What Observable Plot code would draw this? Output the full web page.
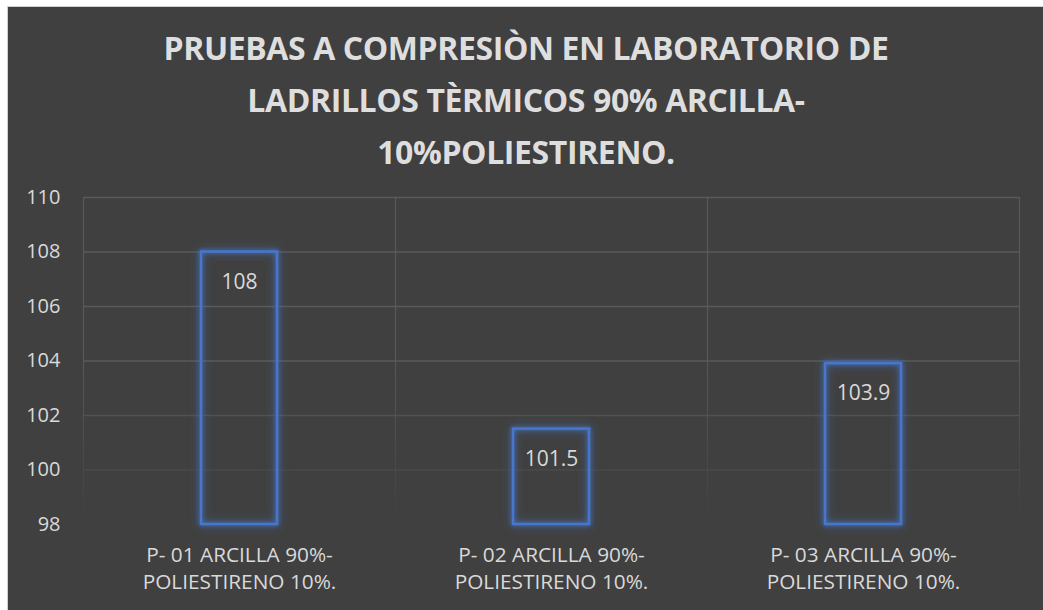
<!DOCTYPE html>
<html>
<head>
<meta charset="utf-8">
<script src="https://cdn.jsdelivr.net/npm/d3@7"></script>
<script src="https://cdn.jsdelivr.net/npm/@observablehq/plot@0.6"></script>
<style>
  html, body { margin: 0; padding: 0; background: #ffffff; }
  #card {
    position: absolute; left: 7px; top: 6px; width: 1036px; height: 604px;
    background: #404040; border-left: 1px solid #cfcfcf; border-top: 1px solid #cfcfcf;
    overflow: hidden;
  }
  #title {
    height: 170px; box-sizing: border-box; padding-top: 15px;
    text-align: center; color: #dedede; font-family: "Open Sans", sans-serif;
    font-weight: 700; font-size: 32px; line-height: 52px; letter-spacing: -0.4px;
  }
  #chart svg { display: block; }
</style>
</head>
<body>
<div id="card">
  <div id="title">PRUEBAS A COMPRESIÒN EN LABORATORIO DE<br>LADRILLOS TÈRMICOS 90% ARCILLA-<br>10%POLIESTIRENO.</div>
  <div id="chart"></div>
</div>
<script>
const categories = [
  "P- 01 ARCILLA 90%-\nPOLIESTIRENO 10%.",
  "P- 02 ARCILLA 90%-\nPOLIESTIRENO 10%.",
  "P- 03 ARCILLA 90%-\nPOLIESTIRENO 10%."
];
const values = [108, 101.5, 103.9];
const yTicks = [98, 100, 102, 104, 106, 108, 110];
const baseline = 98;

const W = 1035, H = 433, mT = 20, mL = 75, mR = 24, mB = 86;
const step = (W - mL - mR) / categories.length;
const gridColor = "#5a5a5a";
const textColor = "#d9d9d9";
const barColor = "#4677cc";

const rows = categories.map((c, i) => ({c, v: values[i]}));
const fade = t => Math.max(0, Math.min(1, (t - yTicks[0]) / 6));

const chart = Plot.plot({
  width: W, height: H,
  marginTop: mT, marginLeft: mL, marginRight: mR, marginBottom: mB,
  style: {background: "transparent", color: textColor, fontFamily: "'Open Sans', sans-serif", fontSize: "20px"},
  x: {domain: categories, paddingInner: 0.756, paddingOuter: 0.378, label: null},
  y: {domain: [yTicks[0], yTicks[yTicks.length - 1]], label: null},
  marks: [
    ...yTicks.filter(t => fade(t) > 0).map(t => Plot.ruleY([t], {stroke: gridColor, strokeOpacity: fade(t), strokeWidth: 1.3})),
    Plot.ruleX(categories, {stroke: "url(#vfade)", strokeWidth: 1.1, dx: -step / 2}),
    Plot.ruleX(categories.slice(-1), {stroke: "url(#vfade)", strokeWidth: 1.1, dx: step / 2}),
    Plot.barY(rows, {x: "c", y1: baseline, y2: "v", fill: "none", stroke: barColor, strokeWidth: 2.5}),
    Plot.text(rows, {x: "c", y: "v", text: d => String(d.v), dy: 30, fill: textColor, fontSize: 21}),
    Plot.axisX({tickSize: 0, tickPadding: 18, lineHeight: 1.3, fontSize: 20.8, fill: textColor}),
    Plot.axisY({ticks: yTicks, tickSize: 0, tickPadding: 23, fontSize: 20, fill: textColor})
  ]
});

// gradient definition for vertical gridlines (fades toward the bottom)
const y = chart.scale("y");
const ns = "http://www.w3.org/2000/svg";
const defs = document.createElementNS(ns, "defs");
const grad = document.createElementNS(ns, "linearGradient");
grad.setAttribute("id", "vfade");
grad.setAttribute("gradientUnits", "userSpaceOnUse");
grad.setAttribute("x1", 0); grad.setAttribute("x2", 0);
grad.setAttribute("y1", y.apply(yTicks[yTicks.length - 1]));
grad.setAttribute("y2", y.apply(yTicks[0]));
[[0, 1], [0.45, 1], [1, 0]].forEach(([o, op]) => {
  const s = document.createElementNS(ns, "stop");
  s.setAttribute("offset", o);
  s.setAttribute("stop-color", gridColor);
  s.setAttribute("stop-opacity", op);
  grad.appendChild(s);
});
defs.appendChild(grad);
chart.insertBefore(defs, chart.firstChild);

// glow on bars
const bars = chart.querySelector('g[aria-label="bar"]');
if (bars) bars.style.filter = "drop-shadow(0 0 2px rgba(70,119,204,0.9)) drop-shadow(0 0 4px rgba(70,119,204,0.6))";

document.getElementById("chart").appendChild(chart);
</script>
</body>
</html>
